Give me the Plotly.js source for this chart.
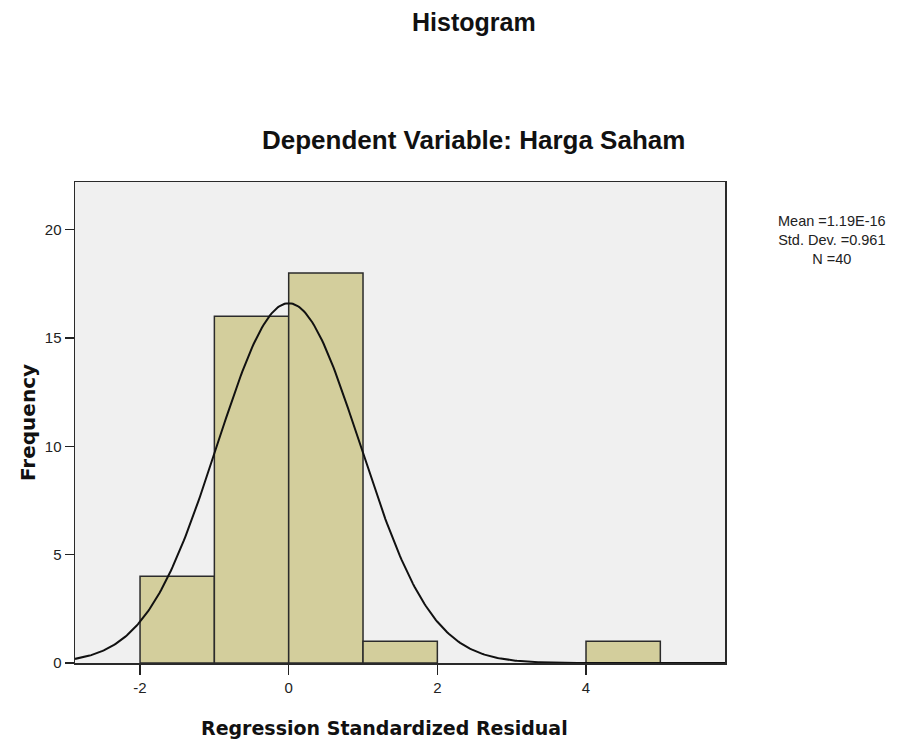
<!DOCTYPE html>
<html>
<head>
<meta charset="utf-8">
<script src="https://cdn.plot.ly/plotly-3.0.1.min.js"></script>
<style>html,body{margin:0;padding:0;background:#fff;}#chart{width:906px;height:740px;}</style>
</head>
<body>
<div id="chart"></div>
<script>
// Histogram bins (centers, width 1) and frequencies
const binCenters = [-1.5, -0.5, 0.5, 1.5, 4.5];
const frequencies = [4, 16, 18, 1, 1];
const binWidth = 1;
// Summary statistics shown in the legend box
const statMean = 1.19e-16;
const statSD = 0.961;
const statN = 40;
const statLabels = ["Mean =1.19E-16", "Std. Dev. =0.961", "N =40"];
const xTicks = [-2, 0, 2, 4];
const yTicks = [0, 5, 10, 15, 20];

// Fitted normal curve defined by the displayed mean / sd / N
const curveX = [], curveY = [];
for (let i = 0; i <= 400; i++) {
  const x = -2.875 + i * (5.87 + 2.875) / 400;
  const z = (x - statMean) / statSD;
  curveX.push(x);
  curveY.push(statN * binWidth * Math.exp(-0.5 * z * z) / (statSD * Math.sqrt(2 * Math.PI)));
}

const traces = [
  {
    type: 'bar', x: binCenters, y: frequencies, width: binWidth,
    marker: {color: '#d3ce9c', line: {color: '#2b2b2b', width: 1.5}},
    hoverinfo: 'x+y', showlegend: false
  },
  {
    type: 'scatter', mode: 'lines', x: curveX, y: curveY,
    line: {color: '#111', width: 2}, hoverinfo: 'skip', showlegend: false
  }
];

const font = 'Arial, "Liberation Sans", sans-serif';
const boldFont = '"DejaVu Sans", Verdana, sans-serif';
const layout = {
  width: 906, height: 740,
  margin: {l: 75, r: 181, t: 182, b: 77},
  paper_bgcolor: '#ffffff', plot_bgcolor: '#f0f0f0',
  bargap: 0,
  font: {family: font, color: '#222', size: 15},
  xaxis: {
    range: [-2.875, 5.87], tickvals: xTicks, ticktext: xTicks.map(String),
    showgrid: false, zeroline: false, showline: true, mirror: true,
    linecolor: '#2a2a2a', linewidth: 1.5, ticks: 'outside', ticklen: 10, tickwidth: 1.5, tickcolor: '#222',
    tickfont: {size: 15, color: '#222'}
  },
  yaxis: {
    range: [0, 22.2], tickvals: yTicks, ticktext: yTicks.map(String),
    showgrid: false, zeroline: false, showline: true, mirror: true,
    linecolor: '#2a2a2a', linewidth: 1.5, ticks: 'outside', ticklen: 9, tickwidth: 1.5, tickcolor: '#222',
    tickfont: {size: 15, color: '#222'},
    title: {text: '<b>Frequency</b>', font: {family: boldFont, size: 20, color: '#111'}, standoff: 4}
  },
  annotations: [
    {text: '<b>Histogram</b>', xref: 'paper', yref: 'paper', x: 0.6138, y: 1.3326,
     xanchor: 'center', yanchor: 'middle', showarrow: false, font: {size: 25, color: '#111'}},
    {text: '<b>Dependent Variable: Harga Saham</b>', xref: 'paper', yref: 'paper', x: 0.6138, y: 1.0873,
     xanchor: 'center', yanchor: 'middle', showarrow: false, font: {size: 26, color: '#111'}},
    {text: '<b>Regression Standardized Residual</b>', xref: 'paper', yref: 'paper', x: 0.4754, y: -0.1351,
     xanchor: 'center', yanchor: 'middle', showarrow: false, font: {family: boldFont, size: 19, color: '#111'}},
    {text: statLabels.join('<br>'), xref: 'paper', yref: 'paper', x: 1.1646, y: 0.8794,
     xanchor: 'center', yanchor: 'middle', align: 'center', showarrow: false,
     font: {size: 14.5, color: '#222'}}
  ]
};

Plotly.newPlot('chart', traces, layout, {displayModeBar: false, staticPlot: true});
</script>
</body>
</html>
